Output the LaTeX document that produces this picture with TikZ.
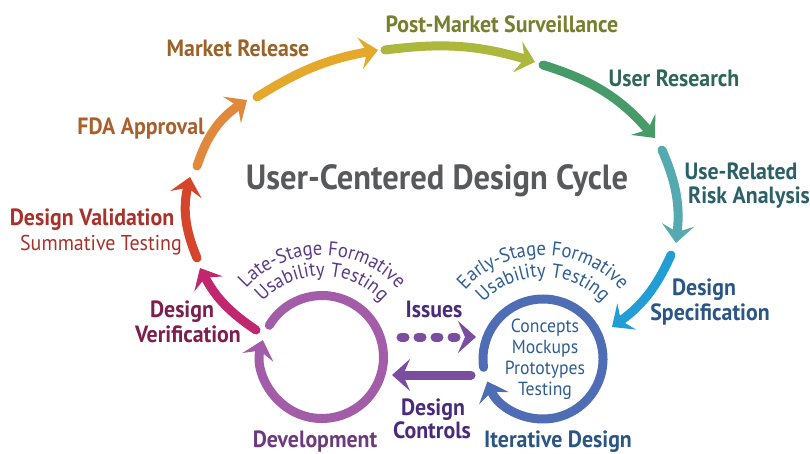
\documentclass[tikz,border=0pt]{standalone}
\usepackage{fontspec}
\setmainfont{PT Sans}[FakeStretch=0.93]
\usetikzlibrary{arrows.meta,decorations.text}

% arrow colours
\definecolor{verC}{HTML}{C1276F}
\definecolor{valC}{HTML}{D4452A}
\definecolor{fdaC}{HTML}{E0883B}
\definecolor{mrkC}{HTML}{E4A82A}
\definecolor{pmsC}{HTML}{ABB83C}
\definecolor{ursC}{HTML}{479B68}
\definecolor{rskC}{HTML}{55A9B0}
\definecolor{spcC}{HTML}{229DD6}
\definecolor{lateC}{HTML}{A25CA8}
\definecolor{earlyC}{HTML}{4F6DB5}
\definecolor{linkC}{HTML}{7B4DA1}
% text colours
\definecolor{verT}{HTML}{7D1E4E}
\definecolor{valT}{HTML}{A8322A}
\definecolor{fdaT}{HTML}{A8602E}
\definecolor{mrkT}{HTML}{9A6228}
\definecolor{pmsT}{HTML}{777E2E}
\definecolor{ursT}{HTML}{2E6657}
\definecolor{rskT}{HTML}{2B6068}
\definecolor{spcT}{HTML}{2A5686}
\definecolor{devT}{HTML}{6E3A7E}
\definecolor{linkT}{HTML}{4A2A7A}
\definecolor{lateT}{HTML}{5B3A87}
\definecolor{earlyT}{HTML}{2E5E94}
\definecolor{titleT}{HTML}{58595B}

\begin{document}
\begin{tikzpicture}[x=1pt,y=1pt,
    cyc/.style={line width=9pt, line cap=round, -{Stealth[length=18pt,width=32pt,inset=7pt]}},
    lbl/.style={anchor=base, inner sep=0pt, font=\fontsize{23.5}{25}\selectfont\bfseries},
    sub/.style={anchor=base, inner sep=0pt, font=\fontsize{21.5}{25}\selectfont},
    idea/.style={anchor=base, inner sep=0pt, font=\fontsize{19}{21}\selectfont, text=earlyT}]
    \useasboundingbox (0,0) rectangle (810,453);

    % --- Outer cycle ---
    \coordinate (verA) at (256,123); \coordinate (verB) at (200,185);
    \coordinate (valA) at (197,195); \coordinate (valB) at (190,276);
    \coordinate (fdaA) at (197,287); \coordinate (fdaB) at (247,353);
    \coordinate (mrkA) at (257,356); \coordinate (mrkB) at (378,403);
    \coordinate (pmsA) at (385,403); \coordinate (pmsB) at (535,391);
    \coordinate (ursA) at (543,388); \coordinate (ursB) at (655,315);
    \coordinate (rskA) at (662,303); \coordinate (rskB) at (676,210);
    \coordinate (spcA) at (671,198); \coordinate (spcB) at (612,126);

    \draw[cyc, verC] (verA) to[bend left=14] (verB);
    \draw[cyc, valC] (valA) to[bend left=18] (valB);
    \draw[cyc, fdaC] (fdaA) to[bend left=19] (fdaB);
    \draw[cyc, mrkC] (mrkA) to[bend left=11] (mrkB);
    \draw[cyc, pmsC] (pmsA) to[bend left=12] (pmsB);
    \draw[cyc, ursC] (ursA) to[bend left=16] (ursB);
    \draw[cyc, rskC] (rskA) to[bend left=15] (rskB);
    \draw[cyc, spcC] (spcA) to[bend left=15] (spcB);

    \node[lbl, text=verT] (ver1) at (182,136) {Design};
    \node[lbl, text=verT] (ver2) at (188,111) {Verification};
    \node[lbl, text=valT] (val1) at (92,228) {Design Validation};
    \node[sub, text=valT] (val2) at (101,203) {Summative Testing};
    \node[lbl, text=fdaT] (fda) at (141,318) {FDA Approval};
    \node[lbl, text=mrkT] (mrk) at (238,396) {Market Release};
    \node[lbl, text=pmsT] (pms) at (502,420) {Post-Market Surveillance};
    \node[lbl, text=ursT] (urs) at (674,366) {User Research};
    \node[lbl, text=rskT] (rsk1) at (741,273) {Use-Related};
    \node[lbl, text=rskT] (rsk2) at (749,250) {Risk Analysis};
    \node[lbl, text=spcT] (spc1) at (704,158) {Design};
    \node[lbl, text=spcT] (spc2) at (710,133) {Specification};

    \node[anchor=base, inner sep=0pt, text=titleT,
          font=\fontsize{35}{40}\selectfont\bfseries] (title) at (437,263) {User-Centered Design Cycle};

    % --- Late-stage loop ---
    \coordinate (late) at (322,96);
    \draw[cyc, lateC] ([shift={(149:61.5)}]late) arc[start angle=149, end angle=-196, radius=61.5];
    \path[decorate, decoration={text along path, text align=center, text color=lateT,
          text={|\fontsize{20}{20}\selectfont|Late-Stage Formative}}]
          ([shift={(140:102)}]late) arc[start angle=140, end angle=40, radius=102];
    \path[decorate, decoration={text along path, text align=center, text color=lateT,
          text={|\fontsize{20}{20}\selectfont|Usability Testing}}]
          ([shift={(140:81)}]late) arc[start angle=140, end angle=40, radius=81];
    \node[lbl, text=devT] (dev) at (315,6) {Development};

    % --- Early-stage loop ---
    \coordinate (early) at (543,94);
    \draw[cyc, earlyC] ([shift={(188:60)}]early) arc[start angle=188, end angle=-158, radius=60];
    \path[decorate, decoration={text along path, text align=center, text color=earlyT,
          text={|\fontsize{20}{20}\selectfont|Early-Stage Formative}}]
          ([shift={(140:104)}]early) arc[start angle=140, end angle=40, radius=104];
    \path[decorate, decoration={text along path, text align=center, text color=earlyT,
          text={|\fontsize{20}{20}\selectfont|Usability Testing}}]
          ([shift={(140:82)}]early) arc[start angle=140, end angle=40, radius=82];
    \foreach \w/\yy [count=\i] in {Concepts/121, Mockups/100, Prototypes/79, Testing/58}
        \node[idea] (idea\i) at (545,\yy) {\w};
    \node[lbl, text=spcT] (iter) at (558,6) {Iterative Design};

    % --- Links between the loops ---
    \coordinate (issA) at (401,116); \coordinate (issB) at (476,116);
    \coordinate (ctlA) at (471,78);  \coordinate (ctlB) at (392,78);
    \draw[cyc, linkC, dash pattern=on 4pt off 13pt] (issA) -- (issB);
    \draw[cyc, linkC] (ctlA) -- (ctlB);
    \node[lbl, text=linkT] (iss) at (434,136) {Issues};
    \node[lbl, text=linkT] (ctl1) at (433,38) {Design};
    \node[lbl, text=linkT] (ctl2) at (432,15) {Controls};
\end{tikzpicture}
\end{document}
